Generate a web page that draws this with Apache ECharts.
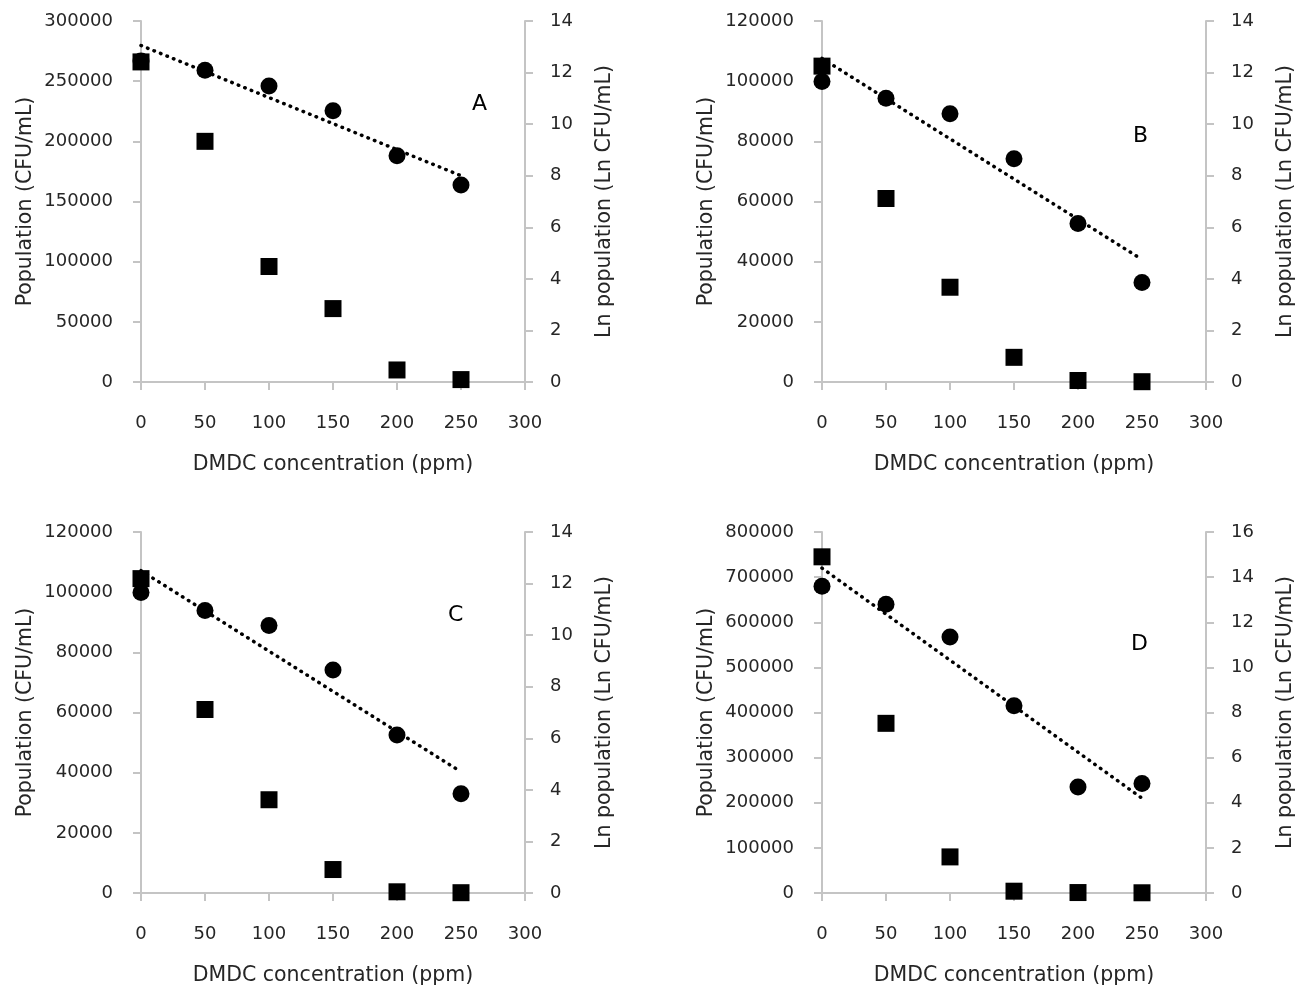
<!DOCTYPE html>
<html>
<head>
<meta charset="utf-8">
<script src="https://cdn.jsdelivr.net/npm/echarts@6/dist/echarts.min.js"></script>
<style>
html,body{margin:0;padding:0;background:#fff;}
#chart{width:1309px;height:989px;}
</style>
</head>
<body>
<div id="chart"></div>
<script>
// DMDC concentration (ppm)
const xConc = [0, 50, 100, 150, 200, 250];
const trendX = [0, 250];

// Panel A
const popA = [266000, 200000, 96000, 61000, 10000, 2000];
const lnA = [12.45, 12.09, 11.48, 10.52, 8.77, 7.64];
const trendA = [13.05, 8.0];

// Panel B
const popB = [105000, 61000, 31500, 8200, 500, 100];
const lnB = [11.65, 11.0, 10.4, 8.66, 6.15, 3.86];
const trendB = [12.55, 4.75];

// Panel C
const popC = [104500, 61000, 31000, 7800, 400, 100];
const lnC = [11.65, 10.96, 10.37, 8.65, 6.13, 3.85];
const trendC = [12.5, 4.7];

// Panel D
const popD = [745000, 376000, 80000, 4000, 1000, 500];
const lnD = [13.6, 12.8, 11.35, 8.3, 4.7, 4.85];
const trendD = [14.4, 4.2];

const panelLetters = ['A', 'B', 'C', 'D'];
const leftMax = [300000, 120000, 120000, 800000];
const leftStep = [50000, 20000, 20000, 100000];
const rightMax = [14, 14, 14, 16];
const rightStep = [2, 2, 2, 2];

const xName = 'DMDC concentration (ppm)';
const leftName = 'Population (CFU/mL)';
const rightName = 'Ln population (Ln CFU/mL)';

const pops = [popA, popB, popC, popD];
const lns = [lnA, lnB, lnC, lnD];
const trends = [trendA, trendB, trendC, trendD];

const FONT = 'DejaVu Sans';
const TXT = '#262626';
const AX = '#c4c4c4';

const grids = [
  {left: 141, right: 784, top: 21, bottom: 607},
  {left: 822, right: 103, top: 21, bottom: 607},
  {left: 141, right: 784, top: 532, bottom: 96},
  {left: 822, right: 103, top: 532, bottom: 96}
];
const letterPos = [[480, 104], [1141, 136], [456, 615], [1139, 644]];

const axisLineCommon = {show: true, lineStyle: {color: AX, width: 2}};
const axisTickCommon = {show: true, inside: false, length: 8, lineStyle: {color: AX, width: 2}};
const plain = v => String(v);

const xAxes = [], yAxes = [], series = [], graphics = [];
for (let i = 0; i < 4; i++) {
  xAxes.push({
    type: 'value', gridIndex: i, min: 0, max: 300, interval: 50,
    name: xName, nameLocation: 'middle', nameGap: 72,
    nameTextStyle: {fontFamily: FONT, fontSize: 20.5, color: TXT},
    axisLine: axisLineCommon, axisTick: axisTickCommon,
    axisLabel: {fontFamily: FONT, fontSize: 18, color: TXT, margin: 32, formatter: plain},
    splitLine: {show: false}
  });
  yAxes.push({
    type: 'value', gridIndex: i, position: 'left', min: 0, max: leftMax[i], interval: leftStep[i],
    name: leftName, nameLocation: 'middle', nameGap: 105, nameRotate: 90,
    nameTextStyle: {fontFamily: FONT, fontSize: 20.5, color: TXT},
    axisLine: axisLineCommon, axisTick: axisTickCommon,
    axisLabel: {fontFamily: FONT, fontSize: 18, color: TXT, margin: 28, formatter: plain},
    splitLine: {show: false}
  });
  yAxes.push({
    type: 'value', gridIndex: i, position: 'right', min: 0, max: rightMax[i], interval: rightStep[i],
    name: rightName, nameLocation: 'middle', nameGap: 69, nameRotate: 90,
    nameTextStyle: {fontFamily: FONT, fontSize: 20.5, color: TXT},
    axisLine: axisLineCommon, axisTick: axisTickCommon,
    axisLabel: {fontFamily: FONT, fontSize: 18, color: TXT, margin: 25, formatter: plain},
    splitLine: {show: false}
  });
  series.push({
    type: 'line', xAxisIndex: i, yAxisIndex: 2 * i + 1,
    data: trendX.map((x, k) => [x, trends[i][k]]),
    symbol: 'none', silent: true, z: 2,
    lineStyle: {color: '#000', width: 3.5, type: [0.5, 6.5], cap: 'round', opacity: 1}
  });
  series.push({
    type: 'scatter', xAxisIndex: i, yAxisIndex: 2 * i + 1,
    data: xConc.map((x, k) => [x, lns[i][k]]),
    symbol: 'circle', symbolSize: 17, z: 3,
    itemStyle: {color: '#000', opacity: 1}
  });
  series.push({
    type: 'scatter', xAxisIndex: i, yAxisIndex: 2 * i,
    data: xConc.map((x, k) => [x, pops[i][k]]),
    symbol: 'rect', symbolSize: 17, z: 4,
    itemStyle: {color: '#000', opacity: 1}
  });
  graphics.push({
    type: 'text', left: letterPos[i][0] - 8, top: letterPos[i][1] - 11,
    style: {text: panelLetters[i], fontFamily: FONT, fontSize: 22, fill: '#000'}
  });
}

const chart = echarts.init(document.getElementById('chart'), null, {renderer: 'canvas'});
chart.setOption({
  animation: false,
  backgroundColor: '#fff',
  grid: grids,
  xAxis: xAxes,
  yAxis: yAxes,
  series: series,
  graphic: graphics
});
</script>
</body>
</html>
